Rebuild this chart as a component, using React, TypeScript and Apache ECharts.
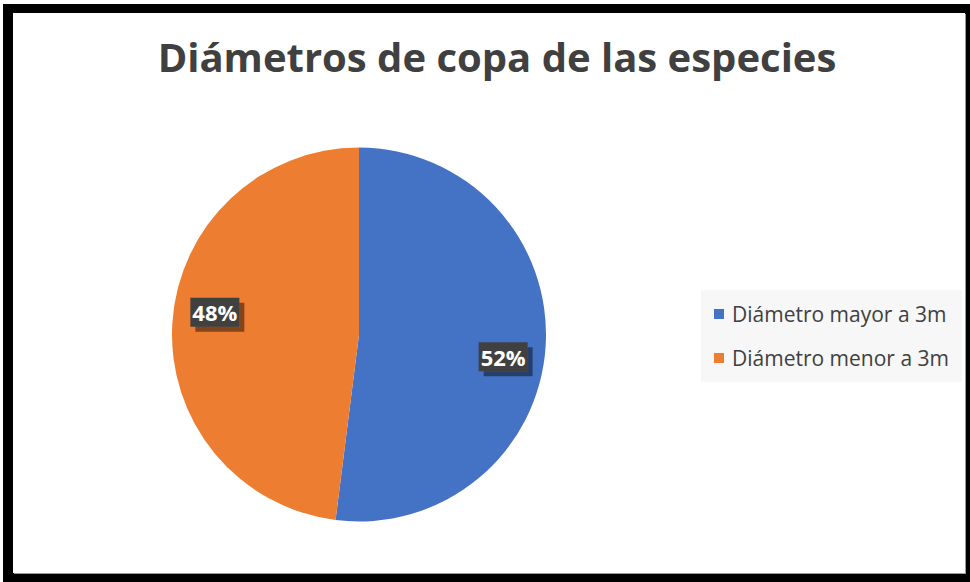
import React, { useEffect, useRef } from "react";
import * as echarts from "echarts";

const titleText = "Diámetros de copa de las especies";
const categories = ["Diámetro mayor a 3m", "Diámetro menor a 3m"];
const values = [52, 48];
const colors = ["#4472C4", "#ED7D31"];

const FONT = "'Open Sans', 'Noto Sans', sans-serif";

export default function App() {
  const ref = useRef<HTMLDivElement>(null);

  useEffect(() => {
    if (!ref.current) return;
    const chart = echarts.init(ref.current, undefined, { renderer: "svg" });
    const center = [346, 321.5];
    const radius = 187;
    const labelDist = 0.78 * radius;
    const rot = (5.2 * Math.PI) / 180;

    chart.setOption({
      animation: false,
      backgroundColor: "#ffffff",
      graphic: [
        {
          type: "text",
          x: 484,
          y: 43,
          style: {
            text: titleText,
            textAlign: "center",
            textVerticalAlign: "middle",
            font: `bold 40px ${FONT}`,
            fill: "#404040",
          },
        },
      ],
      legend: {
        orient: "vertical",
        left: 688,
        top: 277,
        padding: [12, 13, 12, 13],
        itemWidth: 10,
        itemHeight: 10,
        itemGap: 20,
        icon: "rect",
        backgroundColor: "#f7f7f7",
        data: categories,
        textStyle: {
          fontFamily: FONT,
          fontSize: 21,
          lineHeight: 24,
          color: "#404040",
          padding: [0, 0, 0, 3],
        },
      },
      series: [
        {
          type: "pie",
          center,
          radius,
          startAngle: 90,
          clockwise: true,
          label: {
            show: true,
            position: "inside",
            formatter: "{d}%",
            fontFamily: FONT,
            fontWeight: "bold",
            fontSize: 22,
            color: "#ffffff",
            backgroundColor: "#404040",
            padding: [4, 2, 3, 2],
            shadowColor: "rgba(0,0,0,0.45)",
            shadowOffsetX: 5,
            shadowOffsetY: 5,
            shadowBlur: 0,
          },
          labelLine: { show: false },
          labelLayout: (params: any) => {
            const r = params.labelRect;
            const lx = r.x + r.width / 2;
            const ly = r.y + r.height / 2;
            let vx = lx - center[0];
            let vy = ly - center[1];
            const len = Math.sqrt(vx * vx + vy * vy) || 1;
            vx /= len;
            vy /= len;
            const rx = vx * Math.cos(rot) - vy * Math.sin(rot);
            const ry = vx * Math.sin(rot) + vy * Math.cos(rot);
            const nx = center[0] + rx * labelDist;
            const ny = center[1] + ry * labelDist;
            return { dx: nx - lx, dy: ny - ly };
          },
          itemStyle: { borderWidth: 0 },
          emphasis: { disabled: true },
          data: categories.map((name, i) => ({
            name,
            value: values[i],
            itemStyle: { color: colors[i] },
          })),
        },
      ],
    });
    return () => chart.dispose();
  }, []);

  return (
    <div
      style={{
        position: "absolute",
        left: 0,
        top: 0,
        width: 970,
        height: 582,
        background: "#ffffff",
        overflow: "hidden",
      }}
    >
      <div
        style={{
          position: "absolute",
          left: 3,
          top: 4,
          width: 967,
          height: 578,
          background: "#000000",
        }}
      />
      <div
        style={{
          position: "absolute",
          left: 13,
          top: 13,
          width: 952,
          height: 560,
          background: "#ffffff",
          boxShadow: "1px 1px 0 #9a9a9a",
        }}
      >
        <div ref={ref} style={{ width: 952, height: 560 }} />
      </div>
    </div>
  );
}
